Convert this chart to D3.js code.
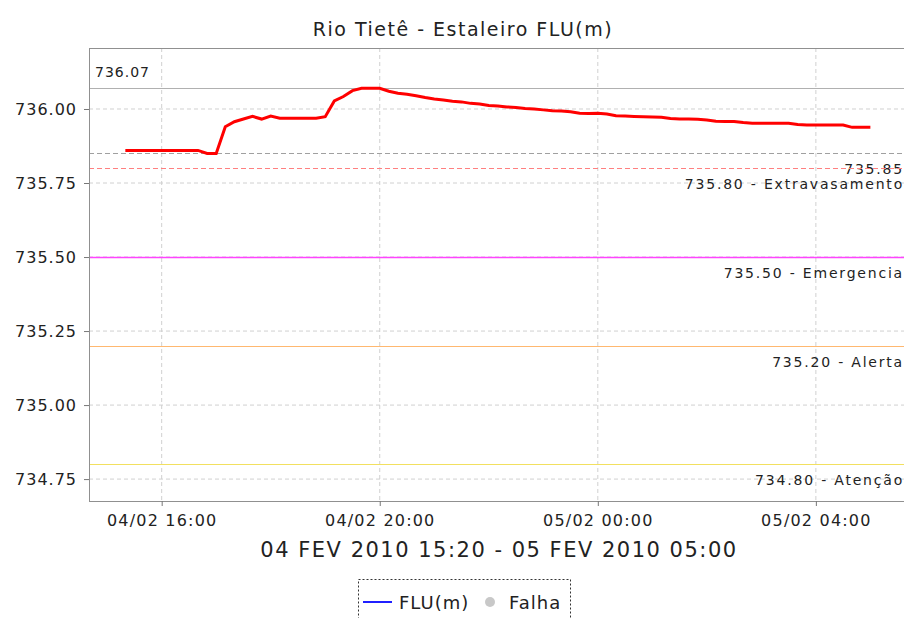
<!DOCTYPE html>
<html>
<head>
<meta charset="utf-8">
<script src="https://cdn.jsdelivr.net/npm/d3@7"></script>
<style>
  body { margin: 0; background: #fff; }
  text { font-family: "DejaVu Sans", sans-serif; fill: #222; }
</style>
</head>
<body>
<div class="canvas"></div>
<script>
// readings every 10 min, 04 FEV 2010 15:20 -> 05 FEV 2010 05:00
const startTime = new Date(2010, 1, 4, 15, 20);
const levels = [
  735.86, 735.86, 735.86, 735.86, 735.86, 735.86, 735.86, 735.86, 735.86, 735.85,
  735.85, 735.94, 735.957, 735.966, 735.975, 735.966, 735.976, 735.969, 735.969, 735.969,
  735.969, 735.969, 735.974, 736.027, 736.042, 736.062, 736.07, 736.07, 736.07, 736.06,
  736.053, 736.05, 736.045, 736.039, 736.034, 736.03, 736.026, 736.024, 736.019, 736.017,
  736.012, 736.01, 736.007, 736.005, 736.002, 736.0, 735.997, 735.994, 735.993, 735.991,
  735.986, 735.985, 735.986, 735.983, 735.977, 735.976, 735.975, 735.974, 735.973, 735.972,
  735.968, 735.966, 735.966, 735.965, 735.963, 735.959, 735.958, 735.958, 735.954, 735.952,
  735.952, 735.952, 735.952, 735.952, 735.948, 735.946, 735.946, 735.946, 735.946, 735.946,
  735.938, 735.938, 735.938
];

const yTicks = [734.75, 735.00, 735.25, 735.50, 735.75, 736.00];
const xTicks = [new Date(2010, 1, 4, 16), new Date(2010, 1, 4, 20), new Date(2010, 1, 5, 0), new Date(2010, 1, 5, 4)];

const markerValues = [736.07, 735.85, 735.80, 735.50, 735.20, 734.80];
const markerLabels = ["736.07", "735.85", "735.80 - Extravasamento", "735.50 - Emergencia", "735.20 - Alerta", "734.80 - Atenção"];
const markerColors = ["#b0b0b0", "#a0a0a0", "#ff8080", "#ff44ff", "#ffb870", "#f2e060"];

const data = levels.map((v, i) => ({t: new Date(startTime.getTime() + i * 600000), v: v}));

const W = 904, H = 618;
const m = {left: 89, top: 48, right: 0, bottom: 117};

const svg = d3.select('.canvas').append('svg')
    .attr('width', W)
    .attr('height', H);

const x = d3.scaleTime()
    .domain([new Date(2010, 1, 4, 14, 40), new Date(2010, 1, 5, 5, 37)])
    .range([m.left, W - m.right]);

const y = d3.scaleLinear()
    .domain([734.676, 736.206])
    .range([H - m.bottom, m.top]);

// grid
svg.append('g').selectAll('line.gy')
  .data(yTicks).enter().append('line')
    .attr('x1', m.left).attr('x2', W)
    .attr('y1', d => y(d)).attr('y2', d => y(d))
    .attr('stroke', '#d0d0d0').attr('stroke-dasharray', '4,3');

svg.append('g').selectAll('line.gx')
  .data(xTicks).enter().append('line')
    .attr('x1', d => x(d)).attr('x2', d => x(d))
    .attr('y1', m.top).attr('y2', H - m.bottom)
    .attr('stroke', '#d0d0d0').attr('stroke-dasharray', '4,3');

// threshold markers
const mk = svg.append('g');
markerValues.forEach((v, i) => {
  mk.append('line')
    .attr('x1', m.left).attr('x2', W)
    .attr('y1', Math.round(y(v)) + 0.5).attr('y2', Math.round(y(v)) + 0.5)
    .attr('stroke', markerColors[i])
    .attr('stroke-width', i == 3 ? 1.6 : 1)
    .attr('stroke-dasharray', (i == 1 || i == 2) ? '5,3' : null);
  const lbl = mk.append('text')
    .attr('font-size', 14)
    .attr('letter-spacing', 1.8)
    .text(markerLabels[i]);
  if (i == 0) {
    lbl.attr('x', m.left + 6).attr('y', y(v) - 11).attr('letter-spacing', 1);
  } else {
    lbl.attr('x', W).attr('y', y(v) + 21).attr('text-anchor', 'end');
  }
});

// series
const line = d3.line()
    .x(d => x(d.t))
    .y(d => y(d.v));

svg.append('path')
    .datum(data)
    .attr('fill', 'none')
    .attr('stroke', '#ff0000')
    .attr('stroke-width', 3)
    .attr('d', line);

// frame
svg.append('rect')
    .attr('x', m.left + 0.5).attr('y', m.top + 0.5)
    .attr('width', W - m.left + 5).attr('height', H - m.bottom - m.top)
    .attr('fill', 'none').attr('stroke', '#909090');

// axes
const yAxis = d3.axisLeft(y)
    .tickValues(yTicks)
    .tickFormat(d3.format('.2f'))
    .tickSize(5).tickSizeOuter(0);

svg.append('g')
    .attr('transform', `translate(${m.left},0)`)
    .call(yAxis)
    .call(g => g.select('.domain').remove())
    .call(g => g.selectAll('line').attr('stroke', '#777'))
    .call(g => g.selectAll('text').attr('font-size', 16).attr('letter-spacing', 1).attr('fill', '#222').attr('font-family', '"DejaVu Sans", sans-serif').attr('dx', -4));

const xAxis = d3.axisBottom(x)
    .tickValues(xTicks)
    .tickFormat(d3.timeFormat('%d/%m %H:%M'))
    .tickSize(5).tickSizeOuter(0);

svg.append('g')
    .attr('transform', `translate(0,${H - m.bottom})`)
    .call(xAxis)
    .call(g => g.select('.domain').remove())
    .call(g => g.selectAll('line').attr('stroke', '#777'))
    .call(g => g.selectAll('text').attr('font-size', 16).attr('letter-spacing', 1.2).attr('fill', '#222').attr('font-family', '"DejaVu Sans Condensed", "DejaVu Sans", sans-serif').attr('dy', '1.05em'));

// titles
svg.append('text')
    .attr('x', 463).attr('y', 36)
    .attr('text-anchor', 'middle')
    .attr('font-size', 19)
    .attr('letter-spacing', 1.5)
    .text('Rio Tietê - Estaleiro FLU(m)');

svg.append('text')
    .attr('x', 499).attr('y', 557)
    .attr('text-anchor', 'middle')
    .attr('font-size', 21)
    .attr('letter-spacing', 1.5)
    .text('04 FEV 2010 15:20 - 05 FEV 2010 05:00');

// legend
const lg = svg.append('g');
lg.append('rect')
    .attr('x', 358.5).attr('y', 579.5)
    .attr('width', 212).attr('height', 50)
    .attr('fill', 'none').attr('stroke', '#333').attr('stroke-dasharray', '2,2');
lg.append('line')
    .attr('x1', 363).attr('x2', 392).attr('y1', 602).attr('y2', 602)
    .attr('stroke', '#2020ff').attr('stroke-width', 2);
lg.append('text')
    .attr('x', 399).attr('y', 609).attr('font-size', 18).attr('letter-spacing', 1)
    .text('FLU(m)');
lg.append('circle')
    .attr('cx', 490).attr('cy', 602).attr('r', 5)
    .attr('fill', '#c8c8c8');
lg.append('text')
    .attr('x', 509).attr('y', 609).attr('font-size', 18).attr('letter-spacing', 1)
    .text('Falha');
</script>
</body>
</html>
